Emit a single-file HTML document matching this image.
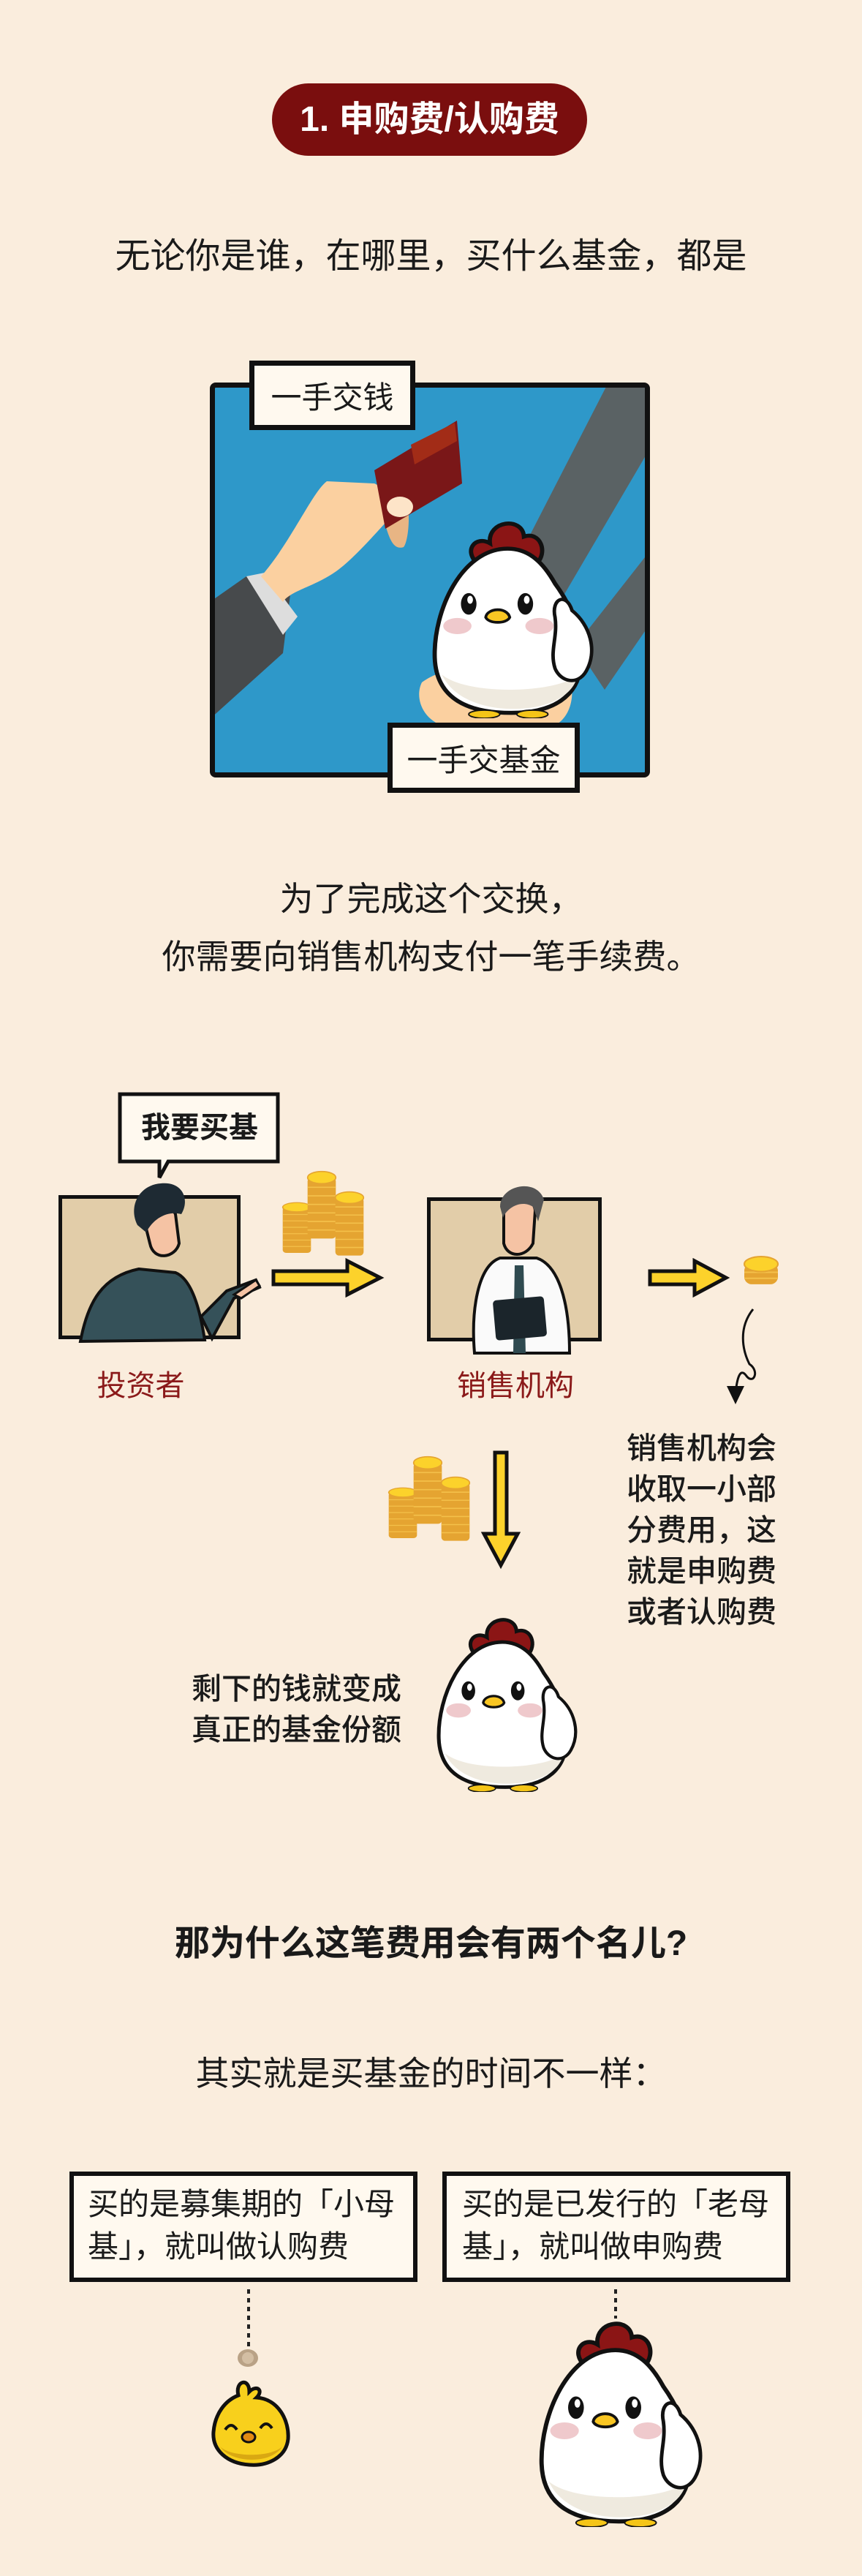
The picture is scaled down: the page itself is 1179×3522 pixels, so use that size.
<!DOCTYPE html>
<html><head><meta charset="utf-8"><style>
body{margin:0}
#p{position:relative;width:1179px;height:3522px;background:#faeddd;overflow:hidden;font-family:"Liberation Sans","Noto Sans CJK SC",sans-serif;color:#1a1a1a}
.a{position:absolute;white-space:nowrap}
.c{text-align:center}
.lbl{position:absolute;background:#fff9ef;border:7px solid #111;box-sizing:border-box;display:flex;align-items:center;justify-content:center;font-size:44px}
</style></head><body><div id="p">
<svg width="0" height="0" style="position:absolute"><defs>
<symbol id="hen" viewBox="0 0 250 300" preserveAspectRatio="none">
<path d="M72 70 C52 50 70 28 90 40 C86 6 136 0 138 30 C162 22 172 54 156 70 Z" fill="#8b1515" stroke="#111" stroke-width="6"/>
<path d="M115 48 C50 48 10 140 12 210 C14 272 60 292 120 292 C186 292 224 262 218 200 C214 150 196 120 182 100 C166 70 146 48 115 48 Z" fill="#fff" stroke="#111" stroke-width="6"/>
<path d="M22 235 C40 275 90 288 130 286 C180 284 210 262 214 235 C190 262 60 268 22 235 Z" fill="#efeadf"/>
<path d="M182 150 C176 122 198 112 206 140 C232 162 242 200 226 230 C214 252 190 246 182 226 C174 200 186 180 182 150 Z" fill="#fff" stroke="#111" stroke-width="5"/>
<ellipse cx="60" cy="130" rx="11" ry="16" fill="#111"/><ellipse cx="62" cy="124" rx="4" ry="6" fill="#fff"/>
<ellipse cx="140" cy="130" rx="11" ry="16" fill="#111"/><ellipse cx="142" cy="124" rx="4" ry="6" fill="#fff"/>
<path d="M84 150 C86 136 114 134 118 150 C114 160 88 160 84 150 Z" fill="#f9c623" stroke="#111" stroke-width="4"/>
<ellipse cx="44" cy="163" rx="20" ry="12" fill="#efc9cc"/><ellipse cx="160" cy="163" rx="20" ry="12" fill="#efc9cc"/>
<ellipse cx="82" cy="294" rx="22" ry="6" fill="#f5c518" stroke="#111" stroke-width="2"/><ellipse cx="150" cy="294" rx="22" ry="6" fill="#f5c518" stroke="#111" stroke-width="2"/>
</symbol>
<symbol id="stack" viewBox="0 0 50 120" preserveAspectRatio="none">
<rect x="2" y="12" width="46" height="100" rx="6" fill="#e5a431"/>
<g stroke="#f4c04a" stroke-width="2"><line x1="2" y1="28" x2="48" y2="28"/><line x1="2" y1="42" x2="48" y2="42"/><line x1="2" y1="56" x2="48" y2="56"/><line x1="2" y1="70" x2="48" y2="70"/><line x1="2" y1="84" x2="48" y2="84"/><line x1="2" y1="98" x2="48" y2="98"/></g>
<ellipse cx="25" cy="12" rx="23" ry="10" fill="#fcd22b" stroke="#e5a431" stroke-width="2"/>
</symbol>
<symbol id="coin" viewBox="0 0 50 45" preserveAspectRatio="none">
<rect x="2" y="12" width="46" height="28" rx="10" fill="#e5a431"/>
<line x1="2" y1="24" x2="48" y2="24" stroke="#f4c04a" stroke-width="2"/><line x1="2" y1="32" x2="48" y2="32" stroke="#f4c04a" stroke-width="2"/>
<ellipse cx="25" cy="13" rx="23" ry="10" fill="#fcd22b" stroke="#e5a431" stroke-width="2"/>
</symbol>
</defs></svg>

<div class="a c" style="left:372px;top:114px;width:431px;height:99px;border-radius:50px;background:#7a0e0e;color:#fff;font-size:48px;font-weight:bold;line-height:99px">1. 申购费/认购费</div>
<div class="a c" style="left:0;width:1179px;top:320px;font-size:48px;line-height:62px">无论你是谁，在哪里，买什么基金，都是</div>

<div class="a" style="left:287px;top:523px;width:602px;height:540px;box-sizing:border-box;border:7px solid #111;border-radius:8px;background:#2e98c9;overflow:hidden">
<svg width="602" height="540" style="position:absolute;left:-7px;top:-7px">
<path d="M545 0 L602 0 L602 90 L420 400 L360 360 Z" fill="#5a6264"/>
<path d="M602 230 L602 330 L540 420 L500 360 Z" fill="#5a6264"/>
<path d="M0 300 L50 265 L110 290 L100 370 L0 460 Z" fill="#474a4c"/>
<path d="M50 265 L75 260 L120 320 L100 345 Z" fill="#ddd"/>
<path d="M70 265 C110 220 140 150 160 135 L225 138 L270 160 C240 190 200 240 170 260 C140 280 110 285 100 300 Z" fill="#fbd0a0"/>
<path d="M240 160 L270 160 C275 190 270 220 265 225 C250 230 245 210 240 195 Z" fill="#e8b584"/>
<path d="M225 120 L338 52 L345 138 L240 200 Z" fill="#7a1718"/>
<path d="M275 85 L335 55 L338 80 L280 112 Z" fill="#a22c17"/>
<ellipse cx="260" cy="170" rx="18" ry="14" fill="#fde4c8"/>
<path d="M290 410 C330 380 420 380 460 360 C500 380 510 450 470 470 L320 470 C290 460 280 430 290 410 Z" fill="#fbd0a0"/>
<use href="#hen" x="296" y="183" width="242" height="276"/>
</svg>
</div>
<div class="lbl" style="left:341px;top:493px;width:227px;height:95px;font-size:42px">一手交钱</div>
<div class="lbl" style="left:530px;top:988px;width:263px;height:96px;font-size:42px">一手交基金</div>

<div class="a c" style="left:0;width:1179px;top:1190px;font-size:46px;line-height:79px">为了完成这个交换，<br>你需要向销售机构支付一笔手续费。</div>

<svg class="a" style="left:160px;top:1492px" width="230" height="125"><path d="M4 4 H220 V96 H70 L58 118 L58 96 H4 Z" fill="#fff9ef" stroke="#111" stroke-width="5"/></svg>
<div class="a c" style="left:164px;top:1496px;width:218px;line-height:92px;font-size:40px;font-weight:bold">我要买基</div>

<div class="a" style="left:80px;top:1634px;width:249px;height:197px;box-sizing:border-box;border:5px solid #111;background:#e2cda9"></div>
<svg class="a" style="left:80px;top:1600px" width="280" height="250">
<path d="M30 234 C40 180 60 145 110 135 L160 140 C185 150 195 200 200 232 Z" fill="#355159" stroke="#111" stroke-width="4"/>
<path d="M195 200 L230 165 L270 150 L275 160 L240 175 L210 230 Z" fill="#355159" stroke="#111" stroke-width="4"/>
<path d="M240 170 L270 150 L275 158 L250 175 Z" fill="#f5c3a4" stroke="#111" stroke-width="3"/>
<path d="M120 80 C120 50 150 40 160 60 L165 100 C160 120 130 125 125 100 Z" fill="#f5c3a4" stroke="#111" stroke-width="4"/>
<path d="M108 75 C95 50 110 20 140 18 C170 15 180 40 168 60 C150 55 130 65 120 85 Z" fill="#1e2a33"/>
</svg>
<div class="a c" style="left:100px;top:1870px;width:185px;font-size:40px;color:#8b1a1a;line-height:50px">投资者</div>

<svg class="a" style="left:385px;top:1598px" width="120" height="125">
<use href="#stack" x="0" y="45" width="42" height="75"/><use href="#stack" x="34" y="2" width="42" height="100"/><use href="#stack" x="72" y="30" width="42" height="95"/>
</svg>
<svg class="a" style="left:370px;top:1720px" width="160" height="55"><path d="M4 18 H105 V4 L150 27 L105 50 V36 H4 Z" fill="#fcd22b" stroke="#111" stroke-width="5"/></svg>

<div class="a" style="left:584px;top:1637px;width:239px;height:197px;box-sizing:border-box;border:5px solid #111;background:#e2cda9"></div>
<svg class="a" style="left:584px;top:1610px" width="240" height="250">
<path d="M65 240 C60 180 70 120 100 110 L150 110 C180 120 195 170 195 240 Z" fill="#fafafa" stroke="#111" stroke-width="4"/>
<path d="M120 120 L132 120 L135 240 L118 240 Z" fill="#2f4a50"/>
<rect x="92" y="165" width="70" height="55" rx="5" fill="#1b252b" transform="rotate(-5 127 192)"/>
<path d="M105 40 C105 20 145 20 148 45 L145 90 C135 110 110 110 105 90 Z" fill="#f5c3a4" stroke="#111" stroke-width="4"/>
<path d="M100 40 C100 10 150 0 160 30 L152 60 L145 40 C130 30 110 40 104 55 Z" fill="#555"/>
</svg>
<div class="a c" style="left:600px;top:1870px;width:210px;font-size:40px;color:#8b1a1a;line-height:50px">销售机构</div>

<svg class="a" style="left:885px;top:1720px" width="115" height="55"><path d="M4 18 H65 V4 L108 27 L65 50 V36 H4 Z" fill="#fcd22b" stroke="#111" stroke-width="5"/></svg>
<svg class="a" style="left:1015px;top:1714px" width="52" height="48"><use href="#coin" x="1" y="1" width="50" height="46"/></svg>
<svg class="a" style="left:990px;top:1785px" width="60" height="140"><path d="M40 5 C20 30 25 60 35 80 C50 90 40 110 30 95 C22 85 18 100 16 120" fill="none" stroke="#111" stroke-width="3"/><path d="M4 110 L28 110 L16 135 Z" fill="#111"/></svg>

<div class="a" style="left:857px;top:1952px;font-size:41px;line-height:56px;font-weight:500">销售机构会<br>收取一小部<br>分费用，这<br>就是申购费<br>或者认购费</div>

<svg class="a" style="left:530px;top:1988px" width="120" height="125">
<use href="#stack" x="0" y="45" width="42" height="75"/><use href="#stack" x="34" y="2" width="42" height="100"/><use href="#stack" x="72" y="30" width="42" height="95"/>
</svg>
<svg class="a" style="left:658px;top:1982px" width="54" height="165"><path d="M19 4 H35 V115 H50 L27 158 L4 115 H19 Z" fill="#fcd22b" stroke="#111" stroke-width="5"/></svg>

<svg class="a" style="left:590px;top:2206px" width="211" height="244"><use href="#hen" x="0" y="0" width="211" height="244"/></svg>
<div class="a" style="left:262px;top:2281px;font-size:41px;line-height:56px;font-weight:500">剩下的钱就变成<br>真正的基金份额</div>

<div class="a c" style="left:0;width:1179px;top:2626px;font-size:48px;font-weight:bold;line-height:64px">那为什么这笔费用会有两个名儿?</div>
<div class="a c" style="left:0;width:1179px;top:2804px;font-size:46px;line-height:62px">其实就是买基金的时间不一样：</div>

<div class="a" style="left:95px;top:2969px;width:476px;height:151px;box-sizing:border-box;border:6px solid #111;background:#fff9ef"></div>
<div class="a" style="left:120px;top:2985px;font-size:42px;line-height:58px">买的是募集期的「小母<br>基」，就叫做认购费</div>
<div class="a" style="left:605px;top:2969px;width:476px;height:151px;box-sizing:border-box;border:6px solid #111;background:#fff9ef"></div>
<div class="a" style="left:632px;top:2985px;font-size:42px;line-height:58px">买的是已发行的「老母<br>基」，就叫做申购费</div>

<svg class="a" style="left:320px;top:3128px" width="40" height="112"><line x1="20" y1="2" x2="20" y2="80" stroke="#222" stroke-width="4" stroke-dasharray="6 6"/><ellipse cx="19" cy="96" rx="14" ry="12" fill="#b9a286"/><ellipse cx="19" cy="96" rx="8" ry="8" fill="#d3bea3"/></svg>
<svg class="a" style="left:286px;top:3250px" width="114" height="125">
<path d="M40 25 C35 5 55 0 55 20 C65 10 75 18 65 28 C95 30 110 60 108 85 C105 110 80 122 55 120 C25 118 4 100 6 75 C8 50 22 32 40 25 Z" fill="#f8d01c" stroke="#111" stroke-width="5"/>
<path d="M15 95 C30 118 85 120 100 95 C85 110 30 110 15 95 Z" fill="#d9a812"/>
<path d="M22 72 Q30 60 38 72 M70 70 Q78 58 86 70" fill="none" stroke="#111" stroke-width="4"/>
<ellipse cx="54" cy="82" rx="9" ry="7" fill="#e28a14" stroke="#111" stroke-width="3"/>
</svg>
<svg class="a" style="left:832px;top:3128px" width="20" height="45"><line x1="10" y1="2" x2="10" y2="42" stroke="#222" stroke-width="4" stroke-dasharray="6 6"/></svg>
<svg class="a" style="left:729px;top:3167px" width="245" height="288"><use href="#hen" x="0" y="0" width="245" height="288"/></svg>
</div></body></html>
